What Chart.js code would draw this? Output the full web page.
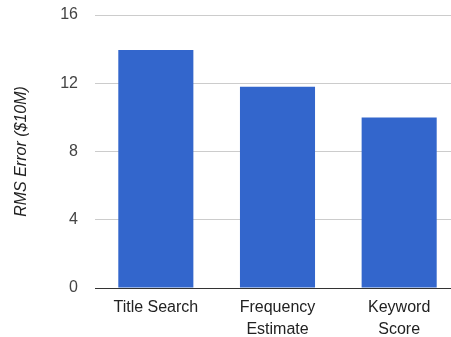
<!DOCTYPE html>
<html>
<head>
<meta charset="utf-8">
<script src="https://cdn.jsdelivr.net/npm/chart.js@4"></script>
<style>
    html, body { margin: 0; padding: 0; background: #fff; overflow: hidden; }
    #wrap { width: 460px; height: 337px; position: relative; }
</style>
</head>
<body>
<div id="wrap"><canvas id="chart"></canvas></div>
<script>
// ── Data ───────────────────────────────────────────────────
const categories = [['Title Search'], ['Frequency', 'Estimate'], ['Keyword', 'Score']];
const rmsError   = [13.95, 11.8, 10.0];
const yTicks     = [0, 4, 8, 12, 16];
const yTitle     = 'RMS Error ($10M)';

const FONT = "Arial, 'Liberation Sans', sans-serif";

new Chart(document.getElementById('chart'), {
    type: 'bar',
    data: {
        labels: categories,
        datasets: [{
            label: yTitle,
            data: rmsError,
            backgroundColor: '#3366cc',
            borderWidth: 0,
            barPercentage: 0.617,
            categoryPercentage: 1.0
        }]
    },
    options: {
        responsive: true,
        maintainAspectRatio: false,
        animation: false,
        layout: { padding: { top: 15, left: 0, right: 0, bottom: 0 } },
        plugins: {
            legend: { display: false },
            tooltip: { enabled: false }
        },
        scales: {
            x: {
                grid: { color: 'rgba(0,0,0,0)', drawTicks: false },
                border: { color: '#333333', width: 1 },
                ticks: {
                    color: '#222222',
                    font: { family: FONT, size: 16, lineHeight: 1.35 },
                    padding: 9,
                    maxRotation: 0
                },
                afterFit(scale) { scale.height = 49; }
            },
            y: {
                min: 0,
                max: 16,
                afterBuildTicks(scale) { scale.ticks = yTicks.map(v => ({ value: v })); },
                // invisible tick marks give the gap between labels and plot
                grid: { color: '#cccccc', drawTicks: true, tickLength: 17, tickColor: 'rgba(0,0,0,0)' },
                border: { display: false },
                ticks: {
                    color: '#444444',
                    font: { family: FONT, size: 16 },
                    padding: 0
                },
                title: {
                    display: true,
                    text: yTitle,
                    color: '#222222',
                    font: { family: FONT, size: 16, style: 'italic' },
                    padding: { top: 12, bottom: 0 }
                },
                afterFit(scale) { scale.width = 95; }
            }
        }
    }
});
</script>
</body>
</html>
